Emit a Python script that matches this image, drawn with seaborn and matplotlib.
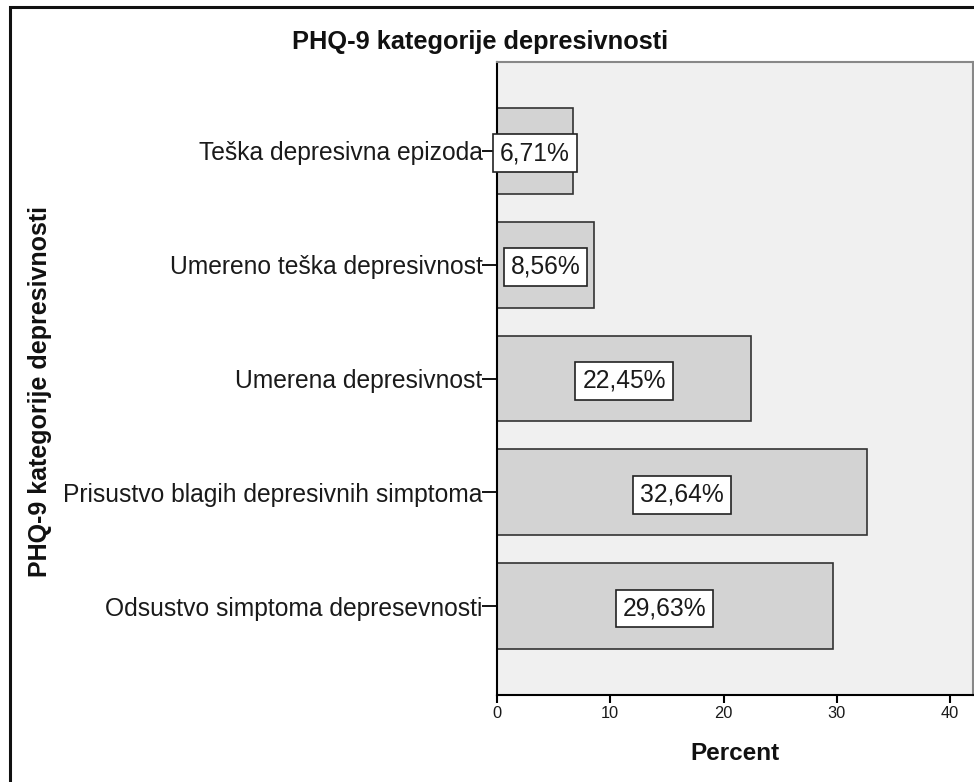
import matplotlib
matplotlib.use("Agg")
import matplotlib.pyplot as plt
import seaborn as sns
import pandas as pd
from matplotlib.patches import Rectangle

categories = [
    "Teška depresivna epizoda",
    "Umereno teška depresivnost",
    "Umerena depresivnost",
    "Prisustvo blagih depresivnih simptoma",
    "Odsustvo simptoma depresevnosti",
]
percents = [6.71, 8.56, 22.45, 32.64, 29.63]
value_labels = ["6,71%", "8,56%", "22,45%", "32,64%", "29,63%"]
x_ticks = [0, 10, 20, 30, 40]

sns.set_theme(style="white")
plt.rcParams["font.family"] = ["Liberation Sans", "DejaVu Sans"]

df = pd.DataFrame({"kategorija": categories, "procenat": percents})

fig = plt.figure(figsize=(9.74, 7.82), dpi=100)
ax = fig.add_axes([497 / 974, 1 - 695 / 782, 476 / 974, 633 / 782])
ax.set_facecolor("#F0F0F0")

sns.barplot(data=df, x="procenat", y="kategorija", order=categories,
            color="#D3D3D3", edgecolor="#333333", linewidth=1.2,
            width=0.754, saturation=1, ax=ax)

for i, (v, lab) in enumerate(zip(percents, value_labels)):
    ax.text(v / 2, i + 0.02, lab, ha="center", va="center", fontsize=17.7,
            color="#1a1a1a",
            bbox=dict(boxstyle="square,pad=0.28", facecolor="white",
                      edgecolor="#222222", linewidth=1.2))

ax.set_xlim(0, 42.03)
ax.set_ylim(4.78, -0.78)
ax.set_xticks(x_ticks)
ax.set_xticklabels([str(t) for t in x_ticks], fontsize=11.8)
ax.tick_params(axis="x", direction="out", length=6, width=1.5, color="black",
               pad=2, labelcolor="#1a1a1a", bottom=True)
ax.tick_params(axis="y", direction="out", length=10.5, width=1.3, color="black",
               pad=0, labelsize=17.7, labelcolor="#1a1a1a", left=True)

for side in ("left", "bottom"):
    ax.spines[side].set_color("black")
    ax.spines[side].set_linewidth(1.5)
for side in ("top", "right"):
    ax.spines[side].set_color("#888888")
    ax.spines[side].set_linewidth(1.5)

ax.set_xlabel("Percent", fontsize=17.5, fontweight="bold", color="#111111")
ax.xaxis.set_label_coords(0.5, -0.074)
ax.set_ylabel("PHQ-9 kategorije depresivnosti", fontsize=18, fontweight="bold",
              color="#111111")
ax.yaxis.set_label_coords(-0.934, 0.479)

fig.text(480 / 974, 1 - 42 / 782, "PHQ-9 kategorije depresivnosti",
         ha="center", va="center", fontsize=18.3, fontweight="bold",
         color="#111111")

# outer frame of the chart panel
fig.patches.append(Rectangle((9.5 / 974, -0.1), 1.2, 1 - 7 / 782 + 0.1,
                             transform=fig.transFigure, fill=False,
                             edgecolor="#111111", linewidth=2.2))

fig.savefig("out.png", dpi=100)
